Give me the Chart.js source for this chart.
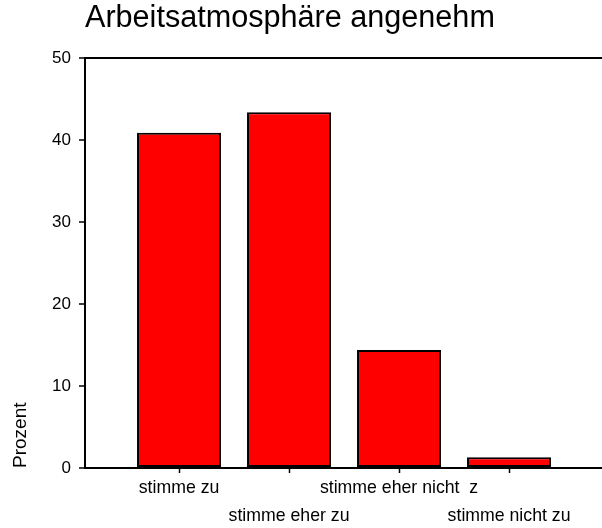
<!DOCTYPE html>
<html>
<head>
<meta charset="utf-8">
<script src="https://cdn.jsdelivr.net/npm/chart.js@4/dist/chart.umd.min.js"></script>
<style>
  html, body { margin: 0; padding: 0; background: #ffffff; }
  #c { display: block; }
</style>
</head>
<body>
<canvas id="c" width="602" height="528"></canvas>
<script>
const titleText = 'Arbeitsatmosphäre angenehm';
const axisTitle = 'Prozent';
const categories = ['stimme zu', 'stimme eher zu', 'stimme eher nicht  z', 'stimme nicht zu'];
const values = [40.9, 43.4, 14.4, 1.3];
const yTicks = [0, 10, 20, 30, 40, 50];

const FONT = 'Arial, "Liberation Sans", Helvetica, sans-serif';

new Chart(document.getElementById('c'), {
  type: 'bar',
  data: {
    datasets: [{
      data: values.map((v, i) => ({ x: i, y: v })),
      backgroundColor: '#ff0000',
      borderColor: '#000000',
      borderWidth: 2,
      borderSkipped: false,
      barPercentage: 0.764,
      categoryPercentage: 1.0
    }]
  },
  options: {
    responsive: false,
    animation: false,
    layout: { padding: 0 },
    plugins: {
      legend: { display: false },
      tooltip: { enabled: false },
      title: {
        display: true,
        text: titleText,
        align: 'start',
        fullSize: false,
        color: '#000',
        font: { family: FONT, size: 30.6, weight: 'normal', lineHeight: 1.2 },
        padding: { top: 0.7, bottom: 20.6 }
      }
    },
    scales: {
      x: {
        type: 'linear',
        min: -0.855,
        max: 3.845,
        offset: false,
        afterBuildTicks: (s) => { s.ticks = categories.map((c, i) => ({ value: i })); },
        afterFit: (s) => { s.height = 60; },
        border: { display: true, color: '#000', width: 2 },
        grid: { offset: false, drawOnChartArea: false, drawTicks: true, tickLength: 5, tickColor: '#000', tickWidth: 1.5 },
        ticks: {
          autoSkip: false,
          maxRotation: 0,
          minRotation: 0,
          padding: 1,
          color: '#000',
          font: { family: FONT, size: 17.7, lineHeight: 1.58 },
          callback: (v, i) => (i % 2 === 0 ? [categories[i], ''] : ['', categories[i]])
        }
      },
      y: {
        min: 0,
        max: 50,
        afterBuildTicks: (s) => { s.ticks = yTicks.map(v => ({ value: v })); },
        afterFit: (s) => { s.width = 85; },
        border: { display: true, color: '#000', width: 2 },
        grid: {
          drawOnChartArea: true,
          drawTicks: true,
          tickLength: 6,
          tickColor: '#000',
          tickWidth: 1.5,
          lineWidth: 2,
          color: (ctx) => (ctx.tick && ctx.tick.value === 50 ? '#000' : 'rgba(0,0,0,0)')
        },
        ticks: {
          padding: 8,
          color: '#000',
          font: { family: FONT, size: 17 }
        },
        title: {
          display: true,
          text: axisTitle,
          align: 'start',
          color: '#000',
          font: { family: FONT, size: 19, lineHeight: 1.2 },
          padding: { top: 9, bottom: 0 }
        }
      }
    }
  }
});
</script>
</body>
</html>
